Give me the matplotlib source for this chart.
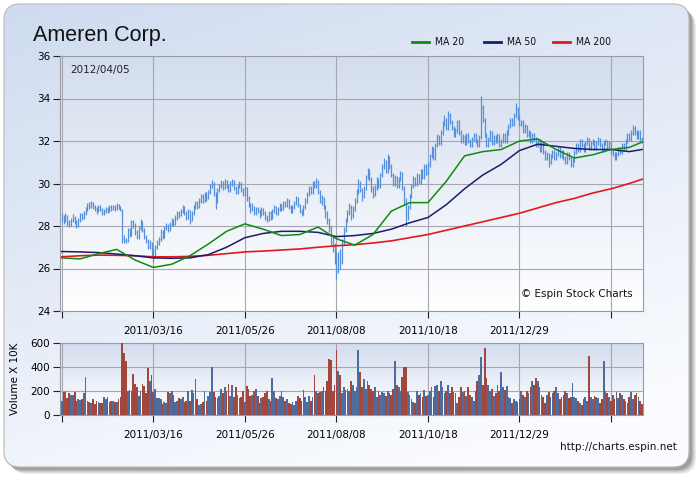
import numpy as np
import matplotlib
matplotlib.use('Agg')
import matplotlib.pyplot as plt
from matplotlib.patches import FancyBboxPatch

# ---- dados ----
tick_days = [0, 50, 100, 150, 200, 250, 300]
tick_labels = ['', '2011/03/16', '2011/05/26', '2011/08/08', '2011/10/18', '2011/12/29', '']

closes = [
    28.4, 28.3, 28.5, 28.2, 28.1, 28.3, 28.4, 28.2, 28.0, 28.3,
    28.5, 28.4, 28.6, 28.8, 29.0, 28.9, 29.1, 28.9, 28.8, 28.7,
    28.9, 28.8, 28.6, 28.7, 28.8, 28.7, 28.9, 28.8, 28.9, 28.8,
    29.0, 28.9, 28.8, 27.4, 27.35, 27.3, 27.8, 27.6, 28.2, 28.0,
    27.7, 27.5, 27.9, 28.2, 27.8, 27.5, 27.3, 27.0, 27.2, 26.8,
    26.6, 27.0, 27.2, 27.4, 27.7, 27.5, 27.9, 28.0, 27.8, 28.1,
    28.3, 28.1, 28.4, 28.6, 28.5, 28.7, 28.9, 28.6, 28.4, 28.7,
    28.3, 28.6, 28.9, 29.1, 28.9, 29.2, 29.4, 29.2, 29.5, 29.3,
    29.6, 29.9, 30.0, 29.5, 29.2, 29.7, 29.9, 30.0, 29.8, 30.1,
    29.9, 29.7, 30.0, 30.1, 29.8, 29.6, 29.9, 30.0, 29.7, 29.5,
    29.8, 29.3, 29.0, 28.8, 28.9, 28.6, 28.8, 28.7, 28.5, 28.8,
    28.6, 28.4, 28.3, 28.6, 28.4, 28.7, 28.9, 28.6, 28.8, 29.0,
    28.8, 29.1, 29.0, 29.2, 28.9, 28.7, 28.9, 29.1, 29.3, 29.0,
    28.7, 28.6, 28.9, 29.2, 29.5, 29.8, 29.6, 30.0, 29.9, 30.1,
    29.6, 29.2, 29.3, 28.9, 28.6, 28.3, 27.9, 27.3, 27.0, 26.6,
    25.9, 26.6, 26.3, 27.2, 27.8, 28.3, 28.6, 28.9, 28.5, 28.8,
    29.2, 29.6, 30.0, 29.7, 29.4, 29.8, 30.3, 30.6, 30.2, 29.8,
    29.5, 29.8, 30.2, 29.9, 30.4, 30.8, 31.0, 30.6, 31.2, 30.8,
    30.4, 30.0, 30.3, 29.9, 30.2, 30.5, 29.8, 29.2, 28.5, 28.9,
    29.4, 29.9, 30.2, 30.0, 30.4, 30.1, 30.6, 30.3, 30.8, 30.5,
    30.9, 31.3, 31.6, 31.2, 31.8, 32.2, 31.9, 32.4, 32.8, 33.0,
    32.6, 33.2, 32.9, 32.6, 32.3, 32.5, 32.9, 32.4, 32.0, 32.2,
    31.9, 32.3, 32.0, 31.8, 32.1, 32.3, 32.0, 31.8, 32.2, 33.6,
    33.0, 32.3, 31.8, 32.1, 32.4, 31.9, 32.2, 32.0, 32.3, 31.8,
    32.0, 32.3, 32.0, 32.4, 32.7, 33.0, 32.8, 33.2, 33.5, 33.1,
    32.8, 32.9, 32.5, 32.7, 32.3, 32.4, 32.0, 32.3, 32.1, 31.8,
    32.0, 31.6, 31.9, 31.5, 31.2, 31.4, 31.0, 31.3, 31.5, 31.2,
    31.4, 31.6, 31.3, 31.5, 31.2, 31.0, 31.4, 31.2, 30.9, 31.1,
    31.5, 31.8, 31.6, 32.0, 31.8, 31.6, 31.9, 32.1, 31.7, 31.9,
    32.0, 31.7, 31.9, 32.1, 31.8, 31.6, 31.9, 32.0, 31.7, 31.9,
    31.5, 31.4, 31.2, 31.4, 31.6, 31.5, 31.8, 31.7, 32.0, 32.3,
    32.1, 32.4, 32.6, 32.4, 32.2, 32.4, 32.1, 32.0,
]

highs = [
    28.6, 28.5, 28.6, 28.5, 28.3, 28.4, 28.55, 28.45, 28.3, 28.4,
    28.6, 28.6, 28.7, 28.9, 29.1, 29.15, 29.2, 29.15, 29.0, 28.9,
    29.0, 29.0, 28.85, 28.8, 28.9, 28.9, 29.0, 29.0, 29.0, 29.0,
    29.1, 29.05, 28.95, 28.8, 27.6, 27.45, 27.9, 27.9, 28.3, 28.3,
    28.15, 27.8, 28.0, 28.35, 28.25, 27.9, 27.6, 27.4, 27.35, 27.25,
    26.9, 27.1, 27.35, 27.5, 27.85, 27.8, 28.0, 28.15, 28.1, 28.2,
    28.4, 28.35, 28.5, 28.7, 28.7, 28.8, 29.0, 28.95, 28.7, 28.8,
    28.75, 28.7, 29.0, 29.2, 29.2, 29.3, 29.5, 29.5, 29.6, 29.6,
    29.7, 30.0, 30.15, 30.05, 29.6, 29.8, 30.0, 30.15, 30.1, 30.2,
    30.15, 30.0, 30.1, 30.2, 30.15, 29.9, 30.0, 30.1, 30.05, 29.8,
    29.9, 29.85, 29.4, 29.1, 29.1, 28.95, 28.9, 28.9, 28.8, 28.9,
    28.85, 28.7, 28.5, 28.7, 28.7, 28.8, 29.0, 28.95, 28.9, 29.1,
    29.05, 29.2, 29.2, 29.3, 29.25, 29.0, 29.0, 29.2, 29.4, 29.35,
    29.05, 28.8, 29.0, 29.3, 29.6, 29.9, 29.9, 30.1, 30.1, 30.25,
    30.15, 29.7, 29.45, 29.35, 29.0, 28.7, 28.4, 28.0, 27.5, 27.2,
    26.8, 26.8, 26.9, 27.4, 27.95, 28.4, 28.75, 29.1, 29.0, 28.95,
    29.3, 29.75, 30.2, 30.1, 29.8, 29.9, 30.4, 30.75, 30.7, 30.3,
    29.9, 29.95, 30.3, 30.25, 30.5, 30.9, 31.2, 31.1, 31.4, 31.3,
    30.9, 30.5, 30.4, 30.35, 30.3, 30.6, 30.55, 29.9, 29.3, 29.0,
    29.5, 30.0, 30.35, 30.3, 30.5, 30.45, 30.7, 30.7, 30.9, 30.9,
    31.0, 31.4, 31.75, 31.7, 31.9, 32.35, 32.3, 32.5, 32.95, 33.2,
    33.1, 33.4, 33.3, 33.0, 32.7, 32.6, 33.0, 33.0, 32.5, 32.35,
    32.3, 32.4, 32.4, 32.1, 32.2, 32.4, 32.4, 32.1, 32.3, 34.1,
    33.7, 33.1, 32.4, 32.2, 32.5, 32.45, 32.3, 32.3, 32.4, 32.35,
    32.1, 32.4, 32.4, 32.5, 32.8, 33.1, 33.1, 33.3, 33.8, 33.6,
    33.2, 33.0, 33.0, 32.8, 32.75, 32.5, 32.45, 32.4, 32.4, 32.2,
    32.1, 32.1, 32.0, 31.95, 31.6, 31.5, 31.45, 31.4, 31.6, 31.6,
    31.5, 31.7, 31.7, 31.6, 31.6, 31.3, 31.5, 31.5, 31.3, 31.2,
    31.6, 31.9, 31.9, 32.1, 32.1, 31.9, 32.0, 32.2, 32.15, 32.0,
    32.1, 32.05, 32.0, 32.2, 32.15, 31.9, 32.0, 32.1, 32.05, 32.0,
    31.95, 31.6, 31.5, 31.5, 31.7, 31.7, 31.9, 31.9, 32.1, 32.4,
    32.4, 32.5, 32.75, 32.7, 32.5, 32.5, 32.5, 32.2,
]

lows = [
    28.2, 28.1, 28.2, 28.0, 27.95, 28.0, 28.2, 28.1, 27.9, 27.95,
    28.2, 28.3, 28.35, 28.5, 28.7, 28.8, 28.85, 28.8, 28.7, 28.55,
    28.65, 28.7, 28.5, 28.5, 28.6, 28.6, 28.65, 28.7, 28.75, 28.7,
    28.75, 28.8, 28.7, 27.2, 27.2, 27.2, 27.25, 27.5, 27.55, 27.9,
    27.6, 27.4, 27.4, 27.8, 27.7, 27.4, 27.2, 26.9, 26.9, 26.6,
    26.3, 26.5, 26.9, 27.1, 27.3, 27.4, 27.45, 27.8, 27.7, 27.75,
    28.0, 28.0, 28.05, 28.3, 28.4, 28.45, 28.6, 28.5, 28.3, 28.35,
    28.1, 28.25, 28.5, 28.8, 28.8, 28.85, 29.1, 29.1, 29.15, 29.2,
    29.25, 29.5, 29.8, 29.4, 28.8, 29.1, 29.6, 29.8, 29.7, 29.75,
    29.8, 29.6, 29.6, 29.9, 29.7, 29.5, 29.5, 29.8, 29.6, 29.4,
    29.4, 29.2, 28.9, 28.6, 28.7, 28.5, 28.5, 28.6, 28.4, 28.45,
    28.5, 28.3, 28.2, 28.25, 28.3, 28.35, 28.6, 28.5, 28.5, 28.7,
    28.7, 28.75, 28.9, 28.9, 28.8, 28.6, 28.6, 28.8, 29.0, 28.9,
    28.6, 28.45, 28.5, 28.8, 29.1, 29.4, 29.5, 29.5, 29.8, 29.8,
    29.5, 29.1, 29.0, 28.8, 28.4, 28.1, 27.7, 27.1, 26.8, 26.2,
    25.5, 25.8, 26.0, 26.2, 27.1, 27.7, 28.2, 28.5, 28.3, 28.4,
    28.7, 29.1, 29.5, 29.6, 29.2, 29.3, 29.7, 30.2, 30.1, 29.6,
    29.3, 29.4, 29.7, 29.8, 29.8, 30.3, 30.7, 30.5, 30.5, 30.7,
    30.3, 29.9, 29.9, 29.8, 29.8, 30.1, 29.7, 29.0, 28.0, 28.3,
    28.8, 29.3, 29.8, 29.9, 29.9, 30.0, 30.0, 30.2, 30.2, 30.4,
    30.4, 30.8, 31.2, 31.1, 31.1, 31.7, 31.8, 31.8, 32.3, 32.7,
    32.5, 32.5, 32.8, 32.5, 32.2, 32.2, 32.4, 32.3, 31.9, 31.9,
    31.8, 31.8, 31.9, 31.7, 31.7, 32.0, 31.9, 31.7, 31.7, 32.1,
    32.9, 32.2, 31.7, 31.7, 32.0, 31.8, 31.8, 31.9, 31.9, 31.7,
    31.7, 31.9, 31.9, 31.9, 32.3, 32.6, 32.7, 32.7, 33.1, 33.0,
    32.7, 32.7, 32.4, 32.4, 32.2, 32.2, 31.9, 31.9, 32.0, 31.7,
    31.7, 31.5, 31.5, 31.4, 31.1, 31.1, 30.8, 30.9, 31.2, 31.1,
    31.1, 31.3, 31.2, 31.2, 31.1, 30.9, 30.9, 31.1, 30.8, 30.8,
    31.0, 31.4, 31.5, 31.5, 31.7, 31.5, 31.5, 31.8, 31.6, 31.6,
    31.8, 31.6, 31.6, 31.8, 31.7, 31.5, 31.5, 31.8, 31.6, 31.6,
    31.4, 31.3, 31.1, 31.1, 31.3, 31.4, 31.4, 31.6, 31.6, 31.9,
    32.0, 32.0, 32.3, 32.3, 32.1, 32.1, 32.0, 31.9,
]

# volume em unidades de 10K
volume = [
    120, 190, 200, 140, 180, 165, 170, 190, 120, 130,
    125, 130, 180, 320, 115, 110, 100, 130, 95, 120,
    110, 100, 100, 150, 130, 150, 110, 115, 120, 105,
    110, 130, 150, 600, 520, 450, 200, 210, 200, 340,
    260, 230, 160, 200, 260, 240, 180, 390, 280, 330,
    190, 220, 145, 140, 130, 95, 110, 100, 190, 180,
    200, 170, 110, 120, 140, 130, 150, 110, 115, 200,
    120, 210, 180, 300, 130, 80, 90, 110, 200, 120,
    160, 190, 400, 190, 150, 140, 160, 220, 180, 230,
    200, 260, 160, 250, 150, 230, 170, 140, 150, 200,
    110, 240, 220, 160, 170, 200, 220, 160, 100, 140,
    150, 180, 200, 130, 120, 310, 200, 140, 130, 160,
    200, 150, 120, 130, 100, 90, 110, 80, 120, 160,
    140, 120, 210, 150, 110, 160, 120, 150, 330, 200,
    180, 190, 200, 230, 200, 280, 470, 460, 200, 250,
    540, 370, 330, 180, 230, 210, 220, 200, 280, 250,
    200, 230, 540, 360, 230, 300, 220, 280, 250, 220,
    200, 230, 150, 200, 170, 190, 180, 160, 200, 180,
    170, 220, 450, 250, 230, 200, 320, 400, 400, 190,
    170, 130, 110, 100, 200, 170, 180, 150, 210, 160,
    170, 200, 230, 150, 240, 250, 200, 280, 230, 180,
    200, 250, 180, 230, 190, 180, 100, 150, 230, 190,
    200, 160, 230, 170, 150, 120, 200, 280, 330, 480,
    250, 560, 310, 250, 200, 220, 160, 180, 250, 200,
    360, 230, 210, 240, 150, 140, 100, 130, 120, 110,
    130, 200, 170, 150, 200, 180, 230, 280, 250, 310,
    280, 230, 170, 150, 100, 170, 190, 150, 180, 200,
    230, 180, 130, 150, 170, 200, 180, 140, 150, 270,
    150, 140, 120, 100, 80, 130, 150, 120, 490, 150,
    130, 160, 150, 140, 100, 130, 450, 200, 180, 150,
    120, 170, 130, 190, 140, 180, 170, 130, 120, 100,
    150, 190, 130, 170, 180, 150, 120, 90,
]

# médias móveis lidas a cada 10 pregões
ma_days = [0, 10, 20, 30, 40, 50, 60, 70, 80, 90, 100, 110, 120, 130, 140, 150,
           160, 170, 180, 190, 200, 210, 220, 230, 240, 250, 260, 270, 280, 290,
           300, 310, 317]
ma20 = [26.5, 26.45, 26.7, 26.9, 26.4, 26.05, 26.2, 26.6, 27.15, 27.75, 28.1,
        27.85, 27.55, 27.6, 27.95, 27.4, 27.1, 27.6, 28.7, 29.1, 29.1, 30.1,
        31.3, 31.5, 31.6, 32.0, 32.1, 31.6, 31.2, 31.35, 31.6, 31.7, 31.95]
ma50 = [26.8, 26.78, 26.75, 26.68, 26.6, 26.5, 26.48, 26.5, 26.65, 27.0, 27.45,
        27.65, 27.75, 27.75, 27.7, 27.5, 27.55, 27.65, 27.85, 28.15, 28.4, 29.0,
        29.75, 30.4, 30.9, 31.55, 31.85, 31.75, 31.65, 31.6, 31.6, 31.5, 31.6]
ma200 = [26.55, 26.6, 26.63, 26.62, 26.6, 26.55, 26.55, 26.57, 26.62, 26.7, 26.78,
         26.82, 26.87, 26.92, 27.0, 27.07, 27.12, 27.2, 27.3, 27.45, 27.6, 27.8,
         28.0, 28.2, 28.4, 28.6, 28.85, 29.1, 29.3, 29.55, 29.75, 30.0, 30.2]

W, H = 700, 480


def fundo_gradiente(ax, top, bottom, zorder=0):
    grad = np.linspace(0, 1, 256).reshape(-1, 1)
    top = np.array(matplotlib.colors.to_rgb(top))
    bottom = np.array(matplotlib.colors.to_rgb(bottom))
    img = top + (bottom - top) * grad[:, :, None]
    ax.imshow(img, extent=[0, 1, 0, 1], transform=ax.transAxes,
              aspect='auto', zorder=zorder, interpolation='bicubic')


def px_axes(fig, x0, y0, x1, y1):
    return fig.add_axes([x0 / W, 1 - y1 / H, (x1 - x0) / W, (y1 - y0) / H])


fig = plt.figure(figsize=(W / 100, H / 100), dpi=100)
fig.patch.set_facecolor('white')

# painel arredondado com sombra
bg = fig.add_axes([0, 0, 1, 1])
bg.set_xlim(0, W)
bg.set_ylim(H, 0)
bg.axis('off')
for i, a in enumerate([0.10, 0.15, 0.20, 0.28]):
    off = 6 - i * 1.3
    bg.add_patch(FancyBboxPatch((5 + off, 5 + off), 685, 463,
                                boxstyle='round,pad=0,rounding_size=16',
                                fc='#555555', ec='none', alpha=a))
painel = FancyBboxPatch((4, 4), 685, 463, boxstyle='round,pad=0,rounding_size=16',
                        fc='none', ec='#b8b8b8', lw=0.8, zorder=3)
bg.add_patch(painel)
gx = np.linspace(0, 1, 200)
gy = np.linspace(0, 1, 200)
GX, GY = np.meshgrid(gx, gy)
t = np.clip(0.75 * GY + 0.35 * GX, 0, 1)
c0 = np.array([0.81, 0.86, 0.94])
c1 = np.array([0.985, 0.99, 1.0])
img = c0 + (c1 - c0) * t[:, :, None]
im = bg.imshow(img, extent=[4, 689, 467, 4], aspect='auto', zorder=1)
im.set_clip_path(painel)

fs_tick = 7.5
cor_grade = '#a6a6b0'

# ---- gráfico de preço ----
ax = px_axes(fig, 60, 56, 643, 311)
fundo_gradiente(ax, '#d3ddee', '#ffffff')
dias = np.arange(len(closes))
ax.vlines(dias, lows, highs, color='#5690dc', lw=0.9, zorder=3)
ax.hlines(closes, dias, dias + 0.5, color='#5690dc', lw=0.5, zorder=3)
ax.plot(ma_days, ma200, color='#e0191e', lw=1.2, zorder=4)
ax.plot(ma_days, ma50, color='#1c1c6b', lw=1.1, zorder=4)
ax.plot(ma_days, ma20, color='#108a10', lw=1.1, zorder=4)
ax.set_xlim(-1, 317.5)
ax.set_ylim(24, 36)
ax.set_yticks([24, 26, 28, 30, 32, 34, 36])
ax.set_xticks(tick_days)
ax.set_xticklabels(tick_labels)
ax.grid(True, color=cor_grade, lw=0.8, zorder=1)
ax.set_axisbelow(True)
ax.tick_params(axis='both', labelsize=fs_tick, length=5, width=0.8, color='#222222',
               pad=2)
ax.tick_params(axis='x', pad=6)
for s in ax.spines.values():
    s.set_color('#9a9aa4')
    s.set_linewidth(0.8)
ax.text(0.017, 0.935, '2012/04/05', transform=ax.transAxes, fontsize=7.5,
        color='#222222')
ax.text(0.79, 0.055, '© Espin Stock Charts', transform=ax.transAxes, fontsize=7.5,
        color='#111111')

# ---- gráfico de volume ----
ax2 = px_axes(fig, 60, 343, 643, 415)
fundo_gradiente(ax2, '#d3ddee', '#ffffff')
cores = ['#4f6d9c'] + ['#a3473c' if closes[i] < closes[i - 1] else '#4f6d9c'
                        for i in range(1, len(closes))]
ax2.bar(dias, volume, width=0.95, color=cores, zorder=3)
ax2.set_xlim(-1, 317.5)
ax2.set_ylim(0, 600)
ax2.set_yticks([0, 200, 400, 600])
ax2.set_xticks(tick_days)
ax2.set_xticklabels(tick_labels)
ax2.grid(True, color=cor_grade, lw=0.8, zorder=1)
ax2.set_axisbelow(True)
ax2.tick_params(axis='both', labelsize=fs_tick, length=5, width=0.8, color='#222222',
                pad=2)
ax2.tick_params(axis='x', pad=6)
for s in ax2.spines.values():
    s.set_color('#9a9aa4')
    s.set_linewidth(0.8)
ax2.set_ylabel('Volume X 10K', fontsize=7.5, labelpad=8)

# ---- título, legenda e rodapé ----
fig.text(33 / W, 1 - 35 / H, 'Ameren Corp.', fontsize=15.5, va='center',
         family='Liberation Sans', color='#111111')
legenda = [('MA 20', '#108a10', 412), ('MA 50', '#1c1c6b', 484), ('MA 200', '#e0191e', 553)]
for nome, cor, x0 in legenda:
    bg.plot([x0, x0 + 17], [42, 42], color=cor, lw=2, zorder=5)
    bg.text(x0 + 23, 42, nome, fontsize=7.5, va='center', zorder=5,
            family='DejaVu Sans', fontstretch='condensed', color='#111111')
fig.text(560 / W, 1 - 447 / H, 'http://charts.espin.net', fontsize=7.5,
         va='center', color='#111111')

fig.savefig('out.png', dpi=100)
